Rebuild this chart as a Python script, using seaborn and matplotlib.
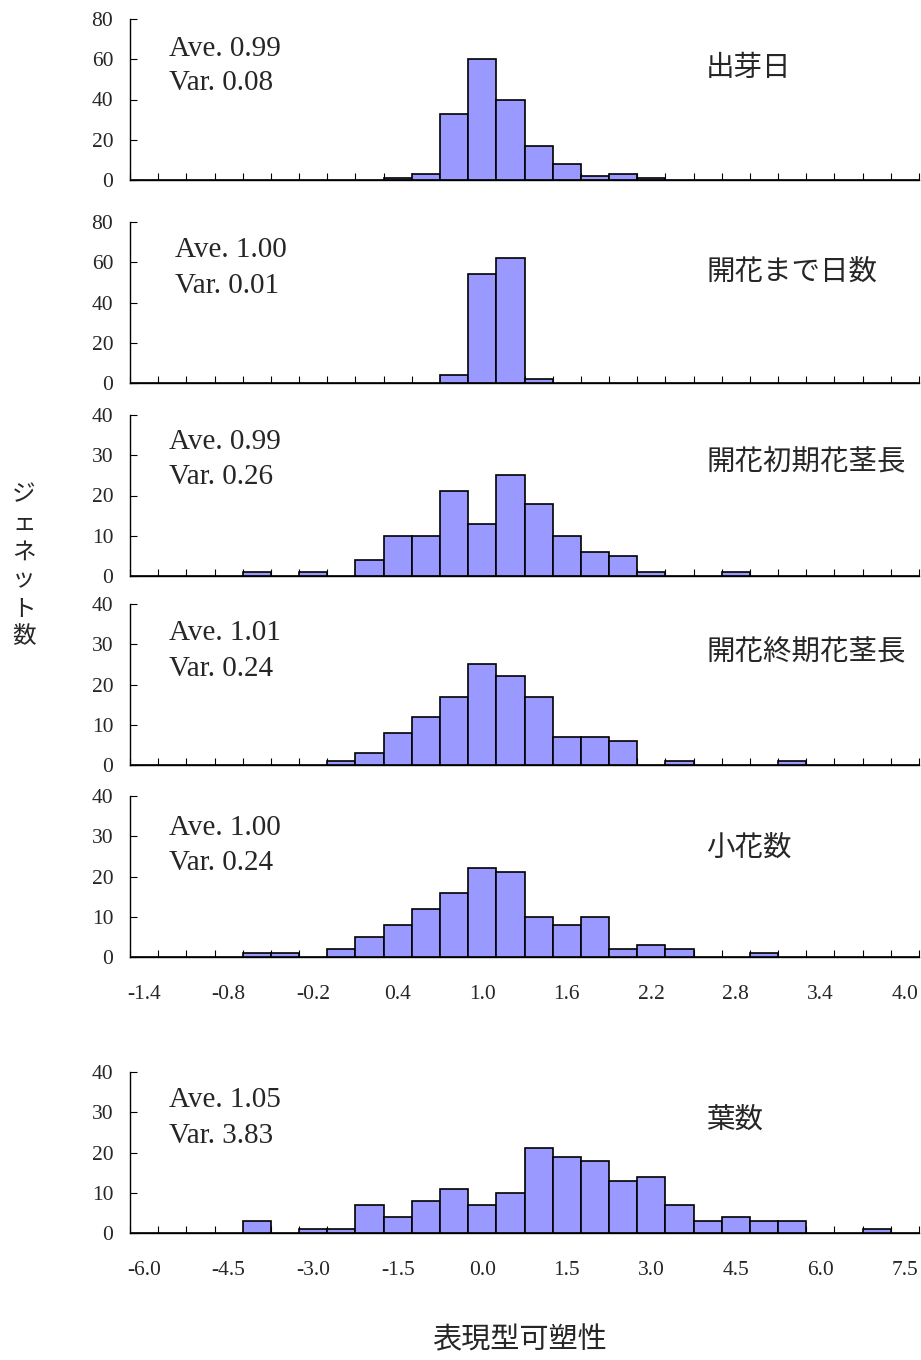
import numpy as np
import pandas as pd
import matplotlib
matplotlib.use("Agg")
import matplotlib.pyplot as plt
import seaborn as sns

# Bin labels (category axis) for the five upper panels and the leaf-number panel
bins_small = [-1.4, -1.2, -1.0, -0.8, -0.6, -0.4, -0.2, 0.0, 0.2, 0.4, 0.6, 0.8, 1.0, 1.2,
              1.4, 1.6, 1.8, 2.0, 2.2, 2.4, 2.6, 2.8, 3.0, 3.2, 3.4, 3.6, 3.8, 4.0]
bins_leaf = [-6.0, -5.5, -5.0, -4.5, -4.0, -3.5, -3.0, -2.5, -2.0, -1.5, -1.0, -0.5, 0.0, 0.5,
             1.0, 1.5, 2.0, 2.5, 3.0, 3.5, 4.0, 4.5, 5.0, 5.5, 6.0, 6.5, 7.0, 7.5]

# Genet counts per bin
count_sprout = [0, 0, 0, 0, 0, 0, 0, 0, 0, 1, 3, 33, 60, 40, 17, 8, 2, 3, 1, 0, 0, 0, 0, 0, 0, 0, 0, 0]
count_days_to_flower = [0, 0, 0, 0, 0, 0, 0, 0, 0, 0, 0, 4, 54, 62, 2, 0, 0, 0, 0, 0, 0, 0, 0, 0, 0, 0, 0, 0]
count_stem_early = [0, 0, 0, 0, 1, 0, 1, 0, 4, 10, 10, 21, 13, 25, 18, 10, 6, 5, 1, 0, 0, 1, 0, 0, 0, 0, 0, 0]
count_stem_late = [0, 0, 0, 0, 0, 0, 0, 1, 3, 8, 12, 17, 25, 22, 17, 7, 7, 6, 0, 1, 0, 0, 0, 1, 0, 0, 0, 0]
count_florets = [0, 0, 0, 0, 1, 1, 0, 2, 5, 8, 12, 16, 22, 21, 10, 8, 10, 2, 3, 2, 0, 0, 1, 0, 0, 0, 0, 0]
count_leaves = [0, 0, 0, 0, 3, 0, 1, 1, 7, 4, 8, 11, 7, 10, 21, 19, 18, 13, 14, 7, 3, 4, 3, 3, 0, 0, 1, 0]

titles = ["出芽日", "開花まで日数", "開花初期花茎長", "開花終期花茎長", "小花数", "葉数"]
aves = ["0.99", "1.00", "0.99", "1.01", "1.00", "1.05"]
vars_ = ["0.08", "0.01", "0.26", "0.24", "0.24", "3.83"]

sns.set_theme(style="white")
plt.rcParams["font.family"] = ["Liberation Serif", "Noto Sans CJK JP"]
plt.rcParams["axes.linewidth"] = 1.0

W, H = 921, 1360
fig = plt.figure(figsize=(W / 100, H / 100), dpi=100)

BAR = "#9999ff"
CJK = ["Noto Sans CJK JP", "DejaVu Sans"]
TICK_FS = 15.5

# (bins, counts, y max, y step, axes top px, axes bottom px, stats x px, ave y px, var y px,
#  title y px, show x labels)
panels = [
    (bins_small, count_sprout, 80, 20, 19, 180, 169, 49, 83, 68, False),
    (bins_small, count_days_to_flower, 80, 20, 222, 383, 175, 250, 286, 272, False),
    (bins_small, count_stem_early, 40, 10, 415, 576, 169, 442, 477, 461, False),
    (bins_small, count_stem_late, 40, 10, 604, 765, 169, 633, 669, 652, False),
    (bins_small, count_florets, 40, 10, 796, 957, 169, 828, 863, 848, True),
    (bins_leaf, count_leaves, 40, 10, 1072, 1233, 169, 1100, 1136, 1120, True),
]

AX_L, AX_R = 130, 919

for i, (bins, counts, ymax, ystep, top, bot, sx, ay, vy, ty, show_x) in enumerate(panels):
    ax = fig.add_axes([AX_L / W, 1 - bot / H, (AX_R - AX_L) / W, (bot - top) / H])
    labels = [f"{b:.1f}" for b in bins]
    df = pd.DataFrame({"bin": labels, "n": counts})
    sns.barplot(data=df, x="bin", y="n", order=labels, color=BAR, saturation=1,
                width=1.0, edgecolor="black", linewidth=1.2, ax=ax)
    ax.set_xlim(-0.5, len(bins) - 0.5)
    ax.set_ylim(0, ymax)
    ax.set_xlabel("")
    ax.set_ylabel("")
    ax.grid(False)

    major = list(range(0, len(bins), 3))
    ax.set_xticks(major)
    if show_x:
        ax.set_xticklabels([labels[k] for k in major], fontsize=TICK_FS,
                           family="Liberation Serif")
    else:
        ax.set_xticklabels([])
    ax.set_xticks(np.arange(-0.5, len(bins), 1.0), minor=True)
    ax.tick_params(axis="x", which="major", length=0, pad=20, bottom=True)
    ax.tick_params(axis="x", which="minor", direction="in", length=5, width=0.8,
                   color="black", bottom=True)

    ax.set_yticks(np.arange(0, ymax + 1, ystep))
    ax.set_yticklabels([str(int(v)) for v in np.arange(0, ymax + 1, ystep)],
                       fontsize=TICK_FS, family="Liberation Serif")
    ax.tick_params(axis="y", direction="in", length=5, width=0.8, color="black",
                   left=True, pad=12)

    for side in ("top", "right"):
        ax.spines[side].set_visible(False)
    for side in ("left", "bottom"):
        ax.spines[side].set_color("black")
        ax.spines[side].set_linewidth(1.0)

    fig.text(sx / W, 1 - ay / H, f"Ave. {aves[i]}", fontsize=21, va="center",
             ha="left", family="Liberation Serif")
    fig.text(sx / W, 1 - vy / H, f"Var. {vars_[i]}", fontsize=21, va="center",
             ha="left", family="Liberation Serif")
    fig.text(706 / W, 1 - ty / H, titles[i], fontsize=20.5, va="center", ha="left",
             family=CJK)

# Axis titles
fig.text(24 / W, 1 - 566 / H, "\n".join("ジェネット数"), fontsize=17, ha="center",
         va="center", linespacing=1.3, family=CJK)
fig.text(520 / W, 1 - 1340 / H, "表現型可塑性", fontsize=21, ha="center", va="center",
         family=CJK)

fig.savefig("out.png", dpi=100)
